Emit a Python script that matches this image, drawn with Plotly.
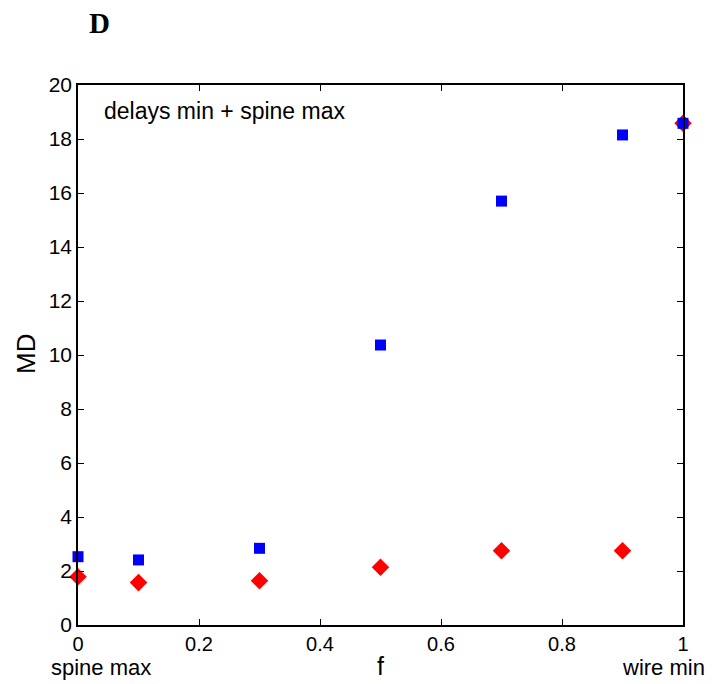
import plotly.graph_objects as go

f_vals = [0, 0.1, 0.3, 0.5, 0.7, 0.9, 1.0]
md_blue = [2.53, 2.41, 2.84, 10.37, 15.70, 18.15, 18.58]
md_red = [1.79, 1.57, 1.64, 2.14, 2.75, 2.75, 18.58]
x_ticks = [0, 0.2, 0.4, 0.6, 0.8, 1]
x_tick_labels = ["0", "0.2", "0.4", "0.6", "0.8", "1"]
y_ticks = [0, 2, 4, 6, 8, 10, 12, 14, 16, 18, 20]

font_family = "Liberation Sans, Arial, sans-serif"

fig = go.Figure()
fig.add_trace(go.Scatter(
    x=f_vals, y=md_red, mode="markers",
    marker=dict(symbol="diamond", size=13.5, color="#ff0000", line=dict(width=0)),
    cliponaxis=False, showlegend=False))
fig.add_trace(go.Scatter(
    x=f_vals, y=md_blue, mode="markers",
    marker=dict(symbol="square", size=11, color="#0000ff", line=dict(width=0)),
    cliponaxis=False, showlegend=False))

axis_common = dict(
    showgrid=False, zeroline=False, showline=True, linecolor="black", linewidth=1.5,
    mirror="ticks", ticks="inside", ticklen=6, tickcolor="black", tickwidth=1,
    tickfont=dict(family=font_family, size=21, color="black"),
)

fig.update_xaxes(range=[0, 1], tickvals=x_ticks, ticktext=x_tick_labels, **axis_common)
fig.update_xaxes(tickfont=dict(size=20))
fig.update_yaxes(range=[0, 20], tickvals=y_ticks, **axis_common)

# page body has an 8px margin, so plot area pixel positions are offset by 8
W_PLOT, H_PLOT = 605, 540
fig.update_layout(
    width=725, height=684,
    margin=dict(l=70, r=50, t=77, b=67),
    plot_bgcolor="white", paper_bgcolor="white",
    font=dict(family=font_family, color="black"),
    annotations=[
        dict(text="delays min + spine max", x=0.04, y=19.05, xref="x", yref="y",
             xanchor="left", yanchor="middle", showarrow=False,
             font=dict(family=font_family, size=23, color="black")),
        dict(text="<b>D</b>", x=(99 - 78) / W_PLOT, y=1 + (85 - 23) / H_PLOT,
             xref="paper", yref="paper", xanchor="center", yanchor="middle",
             showarrow=False,
             font=dict(family="Liberation Serif, Times New Roman, serif", size=29, color="black")),
        dict(text="spine max", x=(101 - 78) / W_PLOT, y=-(667 - 625) / H_PLOT,
             xref="paper", yref="paper", xanchor="center", yanchor="middle",
             showarrow=False, font=dict(family=font_family, size=22, color="black")),
        dict(text="wire min", x=(663 - 78) / W_PLOT, y=-(667 - 625) / H_PLOT,
             xref="paper", yref="paper", xanchor="center", yanchor="middle",
             showarrow=False, font=dict(family=font_family, size=22, color="black")),
        dict(text="f", x=(380 - 78) / W_PLOT, y=-(666 - 625) / H_PLOT,
             xref="paper", yref="paper", xanchor="center", yanchor="middle",
             showarrow=False, font=dict(family=font_family, size=25, color="black")),
        dict(text="MD", x=-(78 - 26) / W_PLOT, y=(625 - 354) / H_PLOT,
             xref="paper", yref="paper", xanchor="center", yanchor="middle",
             textangle=-90, showarrow=False,
             font=dict(family=font_family, size=26, color="black")),
    ],
)

fig.write_html("out.html")
